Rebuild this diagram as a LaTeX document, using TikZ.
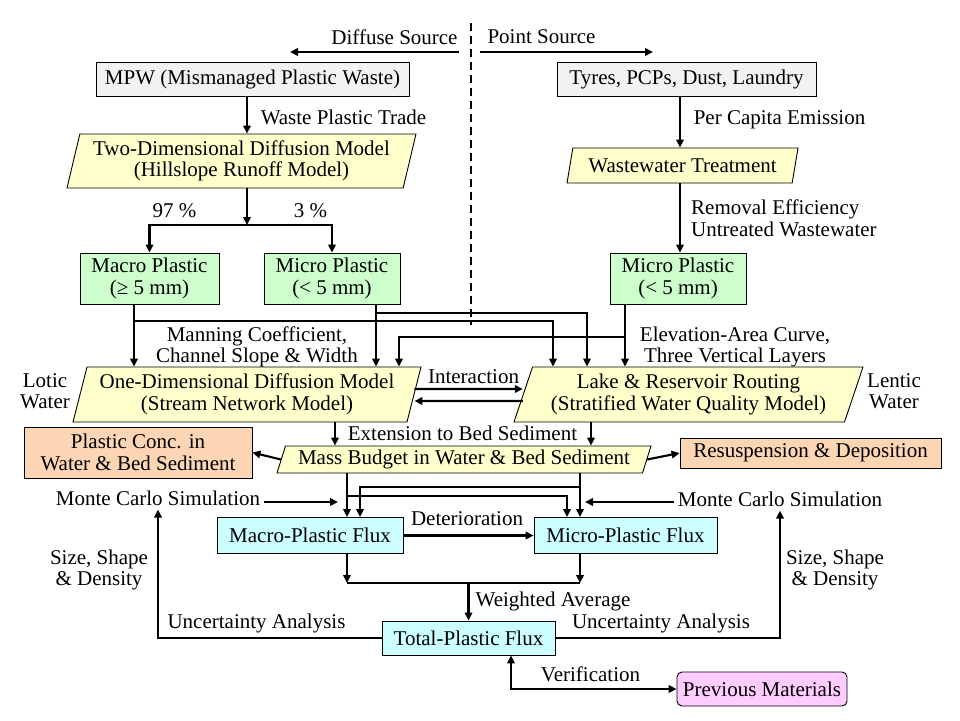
\documentclass[tikz,border=0pt]{standalone}
\usepackage{fontspec}
\setmainfont{Liberation Serif}
\usetikzlibrary{arrows.meta,shapes.geometric}
\definecolor{boxgray}{HTML}{F2F2F2}
\definecolor{boxyellow}{HTML}{FFFFCC}
\definecolor{boxgreen}{HTML}{CCFFCC}
\definecolor{boxpeach}{HTML}{FCD5B5}
\definecolor{boxcyan}{HTML}{CCFFFF}
\definecolor{boxpink}{HTML}{FFCCFF}
\begin{document}
\begin{tikzpicture}[x=1pt,y=-1pt,
        every node/.style={font=\fontsize{21}{21.5}\selectfont, align=center, inner sep=0pt},
        box/.style={draw, line width=0.9pt, minimum width=#1},
        para/.style={trapezium, trapezium stretches body, draw, line width=0.9pt, fill=boxyellow},
        flow/.style={line width=2.1pt, -{Triangle[length=8pt,width=7.5pt]}},
        both/.style={line width=2.1pt, {Triangle[length=8pt,width=7.5pt]}-{Triangle[length=8pt,width=7.5pt]}}]
        \useasboundingbox (0,0) rectangle (960,720);

        \node[box=313, minimum height=34, fill=boxgray] (mpw) at (252.5,79) {MPW (Mismanaged Plastic Waste)};
        \node[box=259, minimum height=34, fill=boxgray] (tyres) at (686.5,79) {Tyres, PCPs, Dust, Laundry};
        \node[para, trapezium left angle=72.5, trapezium right angle=107.5, minimum width=349, minimum height=54] (twod) at (241.5,161) {Two-Dimensional Diffusion Model\\(Hillslope Runoff Model)};
        \node[para, trapezium left angle=67.5, trapezium right angle=112.5, minimum width=231, minimum height=35] (wwt) at (682.5,165.5) {Wastewater Treatment};
        \node[box=139, minimum height=51, fill=boxgreen] (macrop) at (149.5,278.5) {Macro Plastic\\(≥ 5 mm)};
        \node[box=136, minimum height=51, fill=boxgreen] (microl) at (332,278.5) {Micro Plastic\\(< 5 mm)};
        \node[box=136, minimum height=51, fill=boxgreen] (micror) at (678,278.5) {Micro Plastic\\(< 5 mm)};
        \node[para, trapezium left angle=71, trapezium right angle=109, minimum width=348, minimum height=55] (onedim) at (247,394.5) {One-Dimensional Diffusion Model\\(Stream Network Model)};
        \node[para, trapezium left angle=65.5, trapezium right angle=114.5, minimum width=349, minimum height=55] (lake) at (688.5,394.5) {Lake \& Reservoir Routing\\(Stratified Water Quality Model)};
        \node[para, trapezium left angle=66, trapezium right angle=114, minimum width=374, minimum height=27] (mass) at (464,459.5) {Mass Budget in Water \& Bed Sediment};
        \node[box=228, minimum height=51, fill=boxpeach] (conc) at (138,452.5) {Plastic Conc. in\\Water \& Bed Sediment};
        \node[box=261, minimum height=30, fill=boxpeach] (resusp) at (810.5,453) {Resuspension \& Deposition};
        \node[box=186, minimum height=36, fill=boxcyan] (macrof) at (310,535.5) {Macro-Plastic Flux};
        \node[box=183, minimum height=36, fill=boxcyan] (microf) at (625.5,535.5) {Micro-Plastic Flux};
        \node[box=173, minimum height=34, fill=boxcyan] (total) at (468.5,638) {Total-Plastic Flux};
        \node[box=170, minimum height=34, fill=boxpink, rounded corners=5pt] (prev) at (762,689) {Previous Materials};

        \node (diffuse) at (394.5,37) {Diffuse Source};
        \node (point) at (541.5,37) {Point Source};
        \node (trade) at (343.5,117) {Waste Plastic Trade};
        \node (capita) at (779.5,120) {Per Capita Emission};
        \node[anchor=west, align=left] (removal) at (691,218.5) {Removal Efficiency\\Untreated Wastewater};
        \node (p97) at (174.5,211) {97 \%};
        \node (p3) at (310.5,211) {3 \%};
        \node (manning) at (257,347) {Manning Coefficient,\\Channel Slope \& Width};
        \node (elev) at (735,347) {Elevation-Area Curve,\\Three Vertical Layers};
        \node (lotic) at (45,391) {Lotic\\Water};
        \node (lentic) at (894,391) {Lentic\\Water};
        \node (inter) at (473.5,377) {Interaction};
        \node (ext) at (462.5,433) {Extension to Bed Sediment};
        \node (mcl) at (158,498) {Monte Carlo Simulation};
        \node (mcr) at (780,499) {Monte Carlo Simulation};
        \node (deter) at (467,519) {Deterioration};
        \node (sizel) at (99,570) {Size, Shape\\\& Density};
        \node (sizer) at (835,570) {Size, Shape\\\& Density};
        \node (weight) at (553,601) {Weighted Average};
        \node (uncl) at (256.5,623) {Uncertainty Analysis};
        \node (uncr) at (661,623) {Uncertainty Analysis};
        \node (verif) at (590.5,674) {Verification};

        \foreach \n/\x in {la/247,lb/680,lc/134,ld/376,le/625,li/335,lj/591,lk/347,ll/580,lm/360,ln/567,lo/511}
            \coordinate (\n) at (\x,0);
        \coordinate (dsR) at (459,52);
        \coordinate (dsL) at (290,52);
        \coordinate (psL) at (480,52);
        \coordinate (psR) at (653,52);
        \coordinate (dtop) at (471,23);
        \coordinate (dbot) at (471,325);
        \coordinate (split) at (247,225);
        \coordinate (kA) at (553,321);
        \coordinate (kB) at (587,313);
        \coordinate (kC) at (399,337);
        \coordinate (kD) at (580,487);
        \coordinate (kE) at (347,496);
        \coordinate (kF) at (347,583);
        \coordinate (kG) at (580,583);
        \coordinate (mclEnd) at (338,502);
        \coordinate (mcrEnd) at (585,502);

        \draw[flow] (dsR) -- (dsL);
        \draw[flow] (psL) -- (psR);
        \draw[line width=2.1pt, dash pattern=on 8pt off 5pt] (dtop) -- (dbot);

        \draw[flow] (mpw.south -| la) -- (twod.north -| la);
        \draw[flow] (twod.south -| la) -- (split);
        \draw[flow] (split) -| (macrop.north);
        \draw[flow] (split) -| (microl.north);
        \draw[flow] (tyres.south -| lb) -- (wwt.north -| lb);
        \draw[flow] (wwt.south -| lb) -- (micror.north -| lb);

        \draw[flow] (macrop.south -| lc) -- (onedim.north -| lc);
        \draw[flow] (macrop.south -| lc) |- (kA) -- (lake.north -| kA);
        \draw[flow] (microl.south -| ld) -- (onedim.north -| ld);
        \draw[flow] (microl.south -| ld) |- (kB) -- (lake.north -| kB);
        \draw[flow] (micror.south -| le) -- (lake.north -| le);
        \draw[flow] (micror.south -| le) |- (kC) -- (onedim.north -| kC);

        \draw[flow] ([yshift=5.5pt]onedim.east) -- ([yshift=5.5pt]lake.west);
        \draw[flow] ([yshift=-6.5pt]lake.west) -- ([yshift=-6.5pt]onedim.east);
        \draw[flow] (onedim.south -| li) -- (mass.north -| li);
        \draw[flow] (lake.south -| lj) -- (mass.north -| lj);
        \draw[flow] (mass.west) -- (conc.east);
        \draw[flow] (mass.east) -- (resusp.west);

        \draw[flow] (mass.south -| lk) -- (macrof.north -| lk);
        \draw[flow] (mass.south -| ll) -- (microf.north -| ll);
        \draw[flow] (kD) -| (macrof.north -| lm);
        \draw[flow] (kE) -| (microf.north -| ln);
        \draw[flow, shorten <=4pt] (mcl.east |- mclEnd) -- (mclEnd);
        \draw[flow, shorten <=4pt] (mcr.west |- mcrEnd) -- (mcrEnd);
        \draw[flow] (macrof.east) -- (microf.west);

        \draw[flow] (macrof.south -| lk) -- (kF);
        \draw[flow] (microf.south -| ll) -- (kG);
        \draw[line width=2.1pt] (kF) -- (kG);
        \draw[flow] (total.north |- kF) -- (total.north);
        \draw[flow, shorten >=4pt] (total.west) -| (mcl.south);
        \draw[flow, shorten >=4pt] (total.east) -| (mcr.south);
        \draw[both] (total.south -| lo) |- (prev.west);
\end{tikzpicture}
\end{document}
